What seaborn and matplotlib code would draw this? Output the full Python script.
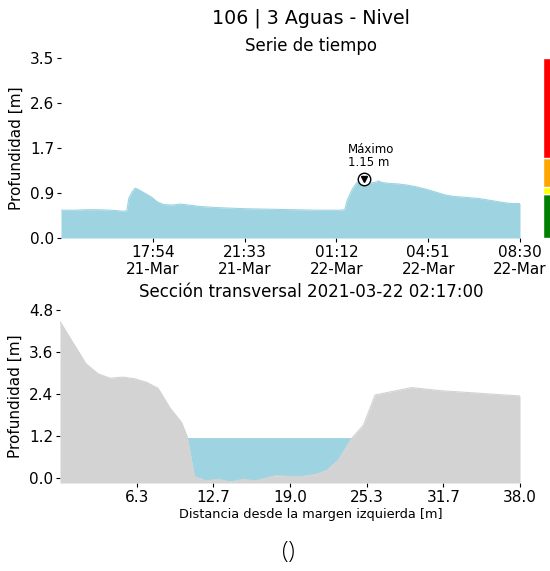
import numpy as np
import pandas as pd
import matplotlib
matplotlib.use("Agg")
import matplotlib.pyplot as plt
import seaborn as sns

# Serie de tiempo (nivel)
tiempos = ["2021-03-21 14:15", "2021-03-21 14:45", "2021-03-21 15:15", "2021-03-21 15:45",
           "2021-03-21 16:15", "2021-03-21 16:45", "2021-03-21 16:52", "2021-03-21 16:57",
           "2021-03-21 17:05", "2021-03-21 17:12", "2021-03-21 17:20", "2021-03-21 17:35",
           "2021-03-21 17:50", "2021-03-21 18:05", "2021-03-21 18:20", "2021-03-21 18:40",
           "2021-03-21 19:00", "2021-03-21 19:20", "2021-03-21 19:50", "2021-03-21 20:30",
           "2021-03-21 21:30", "2021-03-21 22:30", "2021-03-21 23:30", "2021-03-22 00:30",
           "2021-03-22 01:20", "2021-03-22 01:32", "2021-03-22 01:38", "2021-03-22 01:50",
           "2021-03-22 02:00", "2021-03-22 02:10", "2021-03-22 02:17", "2021-03-22 02:25",
           "2021-03-22 02:32", "2021-03-22 02:45", "2021-03-22 02:52", "2021-03-22 03:00",
           "2021-03-22 03:20", "2021-03-22 03:40", "2021-03-22 04:00", "2021-03-22 04:20",
           "2021-03-22 04:45", "2021-03-22 05:10", "2021-03-22 05:30", "2021-03-22 05:50",
           "2021-03-22 06:20", "2021-03-22 06:50", "2021-03-22 07:20", "2021-03-22 07:50",
           "2021-03-22 08:10", "2021-03-22 08:30"]
nivel = [0.54, 0.54, 0.55, 0.55, 0.54, 0.52, 0.53, 0.78, 0.90, 0.97,
         0.94, 0.87, 0.80, 0.70, 0.65, 0.64, 0.66, 0.64, 0.61, 0.59,
         0.57, 0.56, 0.55, 0.54, 0.54, 0.55, 0.74, 0.95, 1.07, 1.13,
         1.15, 1.10, 1.07, 1.08, 1.11, 1.08, 1.06, 1.05, 1.03, 1.00,
         0.95, 0.89, 0.84, 0.81, 0.79, 0.77, 0.73, 0.69, 0.67, 0.67]
yticks_serie = [0.0, 0.875, 1.75, 2.625, 3.5]
ylabels_serie = ["0.0", "0.9", "1.7", "2.6", "3.5"]

# Umbrales de alerta (barra lateral)
umbral_lim = [0.0, 0.85, 1.0, 1.55, 3.5]
umbral_col = ["green", "yellow", "orange", "red"]

# Sección transversal
dist = [0.0, 2.15, 3.17, 4.13, 5.2, 6.2, 7.16, 8.1, 9.1, 10.05, 10.5, 11.1, 12.1, 13.1,
        14.05, 15.15, 16.1, 17.8, 19.0, 19.97, 21.07, 22.04, 23.0, 24.1, 25.07, 26.03,
        29.06, 31.5, 35.4, 38.0]
fondo = [4.47, 3.26, 2.97, 2.85, 2.88, 2.83, 2.73, 2.56, 1.99, 1.58, 1.18, 0.04, -0.09, -0.04,
         -0.12, -0.04, -0.09, 0.06, 0.04, 0.04, 0.09, 0.21, 0.51, 1.13, 1.51, 2.37,
         2.58, 2.49, 2.40, 2.34]
nivel_seccion = 1.15

azul = "#9ed3e1"
gris = "#d3d3d3"

sns.set_style("ticks")
plt.rcParams["font.family"] = ["DejaVu Sans"]
plt.rcParams.update({"text.color": "black", "axes.labelcolor": "black",
                     "xtick.color": "black", "ytick.color": "black"})

df = pd.DataFrame({"tiempo": pd.to_datetime(tiempos), "nivel": nivel})
sec = pd.DataFrame({"dist": dist, "fondo": fondo})

fig = plt.figure(figsize=(5.5, 5.71), dpi=100)
W, H = 550, 571

ax1 = fig.add_axes([61 / W, (H - 238) / H, 459 / W, 180 / H])
ax1.fill_between(df["tiempo"], 0, df["nivel"], color=azul, lw=0)
sns.lineplot(data=df, x="tiempo", y="nivel", ax=ax1, color=azul, lw=0.8)
t0, t1 = df["tiempo"].iloc[0], df["tiempo"].iloc[-1]
ax1.set_xlim(t0, t1)
ax1.set_ylim(0, 3.5)
ax1.set_yticks(yticks_serie)
ax1.set_yticklabels(ylabels_serie, fontsize=11)
xt = pd.date_range(t0, t1, periods=6)[1:]
ax1.set_xticks(xt)
ax1.set_xticklabels([t.strftime("%H:%M\n%d-%b") for t in xt], fontsize=11)
ax1.set_xlabel("")
ax1.set_ylabel("Profundidad [m]", fontsize=11)
ax1.tick_params(length=3, width=0.8, pad=2)

imax = df["nivel"].idxmax()
tmax, vmax = df["tiempo"][imax], df["nivel"][imax]
ax1.plot([tmax], [vmax], marker="o", ms=9, mfc="white", mec="black", mew=1)
ax1.plot([tmax], [vmax], marker="v", ms=4.5, color="black")
ax1.annotate(f"Máximo\n{vmax:.2f} m", (tmax, vmax), xytext=(-11, 7),
             textcoords="offset points", ha="left", va="bottom", fontsize=8.5,
             linespacing=1.0)
sns.despine(ax=ax1, left=True, bottom=True)

axb = fig.add_axes([543 / W, (H - 238) / H, 9 / W, 180 / H])
for i, c in enumerate(umbral_col):
    axb.bar(0, umbral_lim[i + 1] - umbral_lim[i], bottom=umbral_lim[i], width=1, color=c)
axb.set_xlim(-0.5, 0.5)
axb.set_ylim(0, 3.5)
axb.axis("off")

ax2 = fig.add_axes([60 / W, (H - 483) / H, 460 / W, 173 / H])
ymin = -0.15
ax2.fill_between(sec["dist"], ymin, sec["fondo"], color=gris, lw=0, zorder=2)
ax2.fill_between(sec["dist"], sec["fondo"], nivel_seccion,
                 where=sec["fondo"] < nivel_seccion, interpolate=True,
                 color=azul, lw=0, zorder=1)
sns.lineplot(data=sec, x="dist", y="fondo", ax=ax2, color=gris, lw=0.8, zorder=3)
ax2.set_xlim(0, 38)
ax2.set_ylim(ymin, 4.8)
ax2.set_yticks(np.linspace(0, 4.8, 5))
ax2.set_yticklabels([f"{v:.1f}" for v in np.linspace(0, 4.8, 5)], fontsize=11)
xs = np.linspace(0, 38, 7)[1:]
ax2.set_xticks(xs)
ax2.set_xticklabels([f"{v:.1f}" for v in xs], fontsize=11)
ax2.set_ylabel("Profundidad [m]", fontsize=11)
ax2.set_xlabel("Distancia desde la margen izquierda [m]", fontsize=9.3,
               x=(311 - 60) / 460, labelpad=2)
ax2.tick_params(length=3, width=0.8, pad=2)
sns.despine(ax=ax2, left=True, bottom=True)

cx = 311 / W
fig.text(cx, 1 - 18 / H, "106 | 3 Aguas - Nivel", ha="center", va="center", fontsize=13.7)
fig.text(cx, 1 - 46 / H, "Serie de tiempo", ha="center", va="center", fontsize=12)
fig.text(cx, 1 - 292 / H, "Sección transversal 2021-03-22 02:17:00",
         ha="center", va="center", fontsize=12)
fig.text(288 / W, 1 - 552 / H, "()", ha="center", va="center", fontsize=17,
         family=["Open Sans", "DejaVu Sans"], fontweight="light")

fig.savefig("out.png", dpi=100)
